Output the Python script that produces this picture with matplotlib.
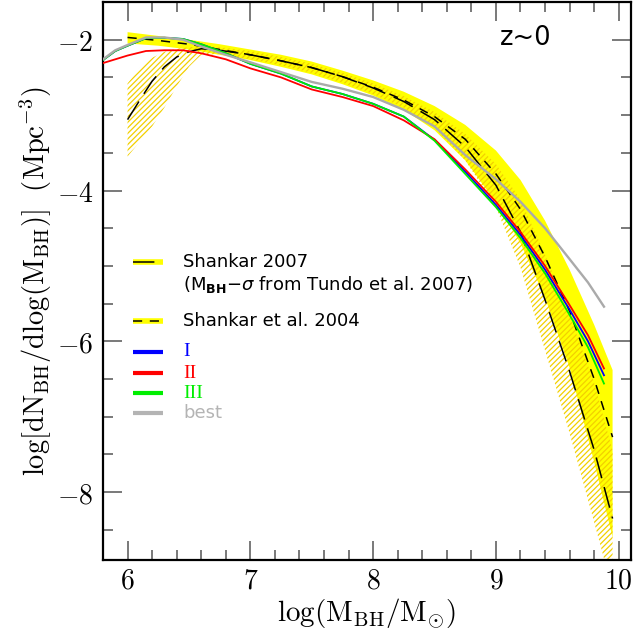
import matplotlib
matplotlib.use("Agg")
import matplotlib.pyplot as plt
from matplotlib.ticker import MultipleLocator, FuncFormatter

plt.rcParams['mathtext.fontset'] = 'cm'
plt.rcParams['hatch.linewidth'] = 0.9

# ---- Shankar et al. 2004 (solid yellow band, short-dashed line)
x04 = [6.0, 6.25, 6.5, 6.75, 7.0, 7.25, 7.5, 7.75, 8.0, 8.25, 8.5, 8.75, 9.0, 9.2, 9.4, 9.6, 9.8, 9.95]
c04 = [-1.97, -2.01, -2.06, -2.13, -2.20, -2.28, -2.37, -2.49, -2.63, -2.80, -3.02, -3.32, -3.78, -4.25, -4.88, -5.60, -6.50, -7.27]
up04 = [-1.90, -1.95, -2.00, -2.06, -2.13, -2.20, -2.29, -2.41, -2.54, -2.69, -2.88, -3.13, -3.47, -3.86, -4.40, -5.05, -5.78, -6.38]
lo04 = [-2.05, -2.08, -2.13, -2.20, -2.27, -2.36, -2.46, -2.59, -2.74, -2.93, -3.20, -3.60, -4.16, -4.70, -5.42, -6.35, -7.60, -8.60]

# ---- Shankar 2007 (hatched yellow band, long-dashed line)
x07 = [6.0, 6.1, 6.2, 6.3, 6.4, 6.5, 6.6, 6.75, 7.0, 7.25, 7.5, 7.75, 8.0, 8.25, 8.5, 8.75, 9.0, 9.2, 9.4, 9.6, 9.8, 9.95]
c07 = [-3.06, -2.80, -2.55, -2.36, -2.23, -2.16, -2.12, -2.14, -2.20, -2.28, -2.37, -2.49, -2.64, -2.82, -3.06, -3.42, -3.93, -4.55, -5.45, -6.40, -7.44, -8.35]
up07 = [-2.58, -2.37, -2.24, -2.16, -2.12, -2.10, -2.09, -2.10, -2.15, -2.23, -2.32, -2.44, -2.58, -2.75, -2.96, -3.25, -3.65, -4.12, -4.85, -5.65, -6.55, -7.45]
lo07 = [-3.55, -3.35, -3.15, -2.90, -2.62, -2.36, -2.20, -2.19, -2.26, -2.34, -2.44, -2.57, -2.72, -2.90, -3.17, -3.60, -4.22, -5.02, -6.12, -7.22, -8.40, -9.30]

# ---- model curves
xm = [5.8, 5.9, 6.0, 6.15, 6.3, 6.45, 6.6, 6.8, 7.0, 7.25, 7.5, 7.75, 8.0, 8.25, 8.5, 8.75, 9.0, 9.2, 9.4, 9.6, 9.75, 9.88]
y_I = [-2.27, -2.15, -2.08, -1.98, -1.975, -1.99, -2.06, -2.18, -2.32, -2.45, -2.62, -2.72, -2.85, -3.02, -3.33, -3.75, -4.19, -4.59, -5.05, -5.58, -6.00, -6.45]
y_II = [-2.31, -2.26, -2.21, -2.15, -2.14, -2.14, -2.18, -2.26, -2.38, -2.50, -2.66, -2.76, -2.88, -3.07, -3.32, -3.72, -4.15, -4.55, -5.00, -5.52, -5.92, -6.36]
y_III = [-2.27, -2.15, -2.08, -1.98, -1.975, -1.99, -2.06, -2.18, -2.32, -2.45, -2.62, -2.72, -2.85, -3.02, -3.34, -3.78, -4.22, -4.63, -5.10, -5.65, -6.08, -6.56]
y_best = [-2.26, -2.14, -2.07, -1.97, -1.97, -2.00, -2.09, -2.20, -2.30, -2.43, -2.56, -2.65, -2.76, -2.93, -3.15, -3.53, -3.85, -4.15, -4.50, -4.91, -5.22, -5.54]

xticks = [6, 7, 8, 9, 10]
yticks = [-8, -6, -4, -2]

YELLOW = '#ffff00'
GOLD = '#f2d000'

fig = plt.figure(figsize=(6.36, 6.34), dpi=100)
ax = fig.add_axes([103/636, 74/634, 528/636, 558/634])

ax.fill_between(x04, lo04, up04, facecolor=YELLOW, edgecolor='none', linewidth=0, zorder=1)
ax.fill_between(x07, lo07, up07, facecolor='none', edgecolor=GOLD, linewidth=0,
                hatch='//////', zorder=2)
ax.plot(x04, c04, color='black', lw=1.1, dashes=(6, 5), zorder=3)
ax.plot(x07, c07, color='black', lw=1.1, dashes=(14, 6), zorder=3)

ax.plot(xm, y_I, color='#0000ff', lw=1.3, zorder=4)
ax.plot(xm, y_II, color='#ff0000', lw=1.3, zorder=5)
ax.plot(xm, y_III, color='#00ee00', lw=1.3, zorder=6)
ax.plot(xm, y_best, color='#aaaaaa', lw=1.7, zorder=7)

ax.set_xlim(5.8, 10.1)
ax.set_ylim(-8.9, -1.5)
ax.set_xticks(xticks)
ax.set_yticks(yticks)
ax.xaxis.set_minor_locator(MultipleLocator(0.2))
ax.yaxis.set_minor_locator(MultipleLocator(0.5))
fmt = FuncFormatter(lambda v, p: r'$%d$' % int(round(v)))
ax.xaxis.set_major_formatter(fmt)
ax.yaxis.set_major_formatter(fmt)
ax.tick_params(which='both', direction='in', top=True, right=True, labelsize=20, color='#555555')
ax.tick_params(which='major', length=14, width=1.1, pad=7)
ax.tick_params(axis='x', which='major', pad=5)
ax.tick_params(which='minor', length=7, width=1.1)
for s in ax.spines.values():
    s.set_linewidth(1.6)

ax.set_xlabel(r'$\mathrm{log(M_{BH}/M_{\odot})}$', fontsize=21, labelpad=1)
ax.set_ylabel(r'$\mathrm{log[dN_{BH}/dlog(M_{BH})]\ \ (Mpc^{-3})}$', fontsize=20.5, labelpad=2)

ax.text(0.752, 0.935, 'z~0', transform=ax.transAxes, fontsize=18.5, ha='left', va='center')

# legend drawn by hand
lx0, lx1, tx = 0.057, 0.114, 0.152
tr = ax.transAxes
def leg_line(y, **kw):
    ax.plot([lx0, lx1], [y, y], transform=tr, clip_on=False, solid_capstyle='butt', **kw)

FS = 13
leg_line(0.534, color=YELLOW, lw=4, zorder=8)
leg_line(0.534, color='black', lw=1.1, dashes=(14, 6), zorder=9)
ax.text(tx, 0.534, 'Shankar 2007', transform=tr, fontsize=FS, va='center')
ax.text(tx, 0.494, r'(M$_{\mathbf{BH}}$$-\sigma$ from Tundo et al. 2007)', transform=tr,
        fontsize=FS, va='center', math_fontfamily='dejavusans')
leg_line(0.428, color=YELLOW, lw=4, zorder=8)
leg_line(0.428, color='black', lw=1.1, dashes=(6, 5), zorder=9)
ax.text(tx, 0.428, 'Shankar et al. 2004', transform=tr, fontsize=FS, va='center')

for y, col, lab, fam in [(0.373, '#0000ff', 'I', 'Liberation Serif'),
                          (0.335, '#ff0000', 'II', 'Liberation Serif'),
                          (0.299, '#00ee00', 'III', 'Liberation Serif'),
                          (0.263, '#b4b4b4', 'best', 'DejaVu Sans')]:
    leg_line(y, color=col, lw=3, zorder=8)
    ax.text(tx, y, lab, transform=tr, fontsize=14 if fam != 'DejaVu Sans' else FS,
            color=col, va='center', family=fam)

fig.savefig('out.png', dpi=100)
